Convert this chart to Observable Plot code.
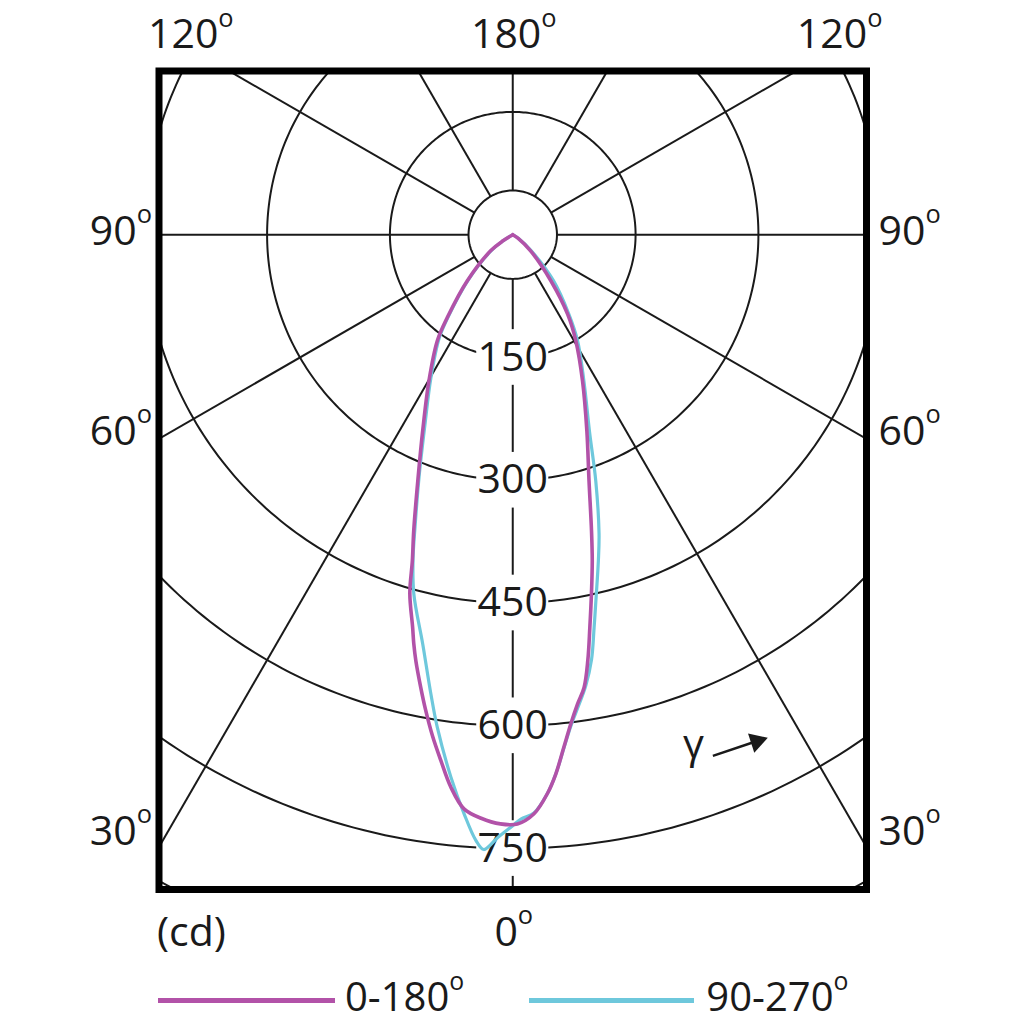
<!DOCTYPE html>
<html>
<head>
<meta charset="utf-8">
<script src="https://cdn.jsdelivr.net/npm/d3@7"></script>
<script src="https://cdn.jsdelivr.net/npm/@observablehq/plot@0.6"></script>
<style>
  html, body { margin: 0; padding: 0; background: #fff; }
  #chart svg { display: block; }
  #legend {
    box-sizing: border-box; height: 64px; padding-top: 8px;
    display: flex; align-items: center;
    font-family: "Open Sans", sans-serif; font-size: 40px; line-height: 1; color: #1a1a1a;
    padding-left: 158px;
  }
  #legend .sw { display: inline-block; height: 5px; position: relative; top: 4px; }
  #legend .deg { font-size: 0.62em; position: relative; top: -0.85em; }
</style>
</head>
<body>
<div id="chart"></div>
<div id="legend"></div>
<script>
// ---- data ----
const ringValues = [150, 300, 450, 600, 750, 900];
const ringLabels = [150, 300, 450, 600, 750];
const spokeAngles = [0, 30, 60, 90, 120, 150, 180, 210, 240, 270, 300, 330];
const hubRadius = 54;
const sideTickAngles = [90, 60, 30];
const topTickLabels = ["120°", "180°", "120°"];
const bottomTickLabel = "0°";
const unitLabel = "(cd)";
const seriesNames = ["0-180°", "90-270°"];
const seriesColors = ["#b252a8", "#6ec8dc"];

// C0-C180 plane (negative gamma = left half)
const gamma0 = [-65, -58, -54, -44.6, -38.3, -35.4, -29.8, -24.7, -21.2, -18.5, -17.1, -16.0, -14.3, -13.6, -12.8, -11.5, -10.4, -9.1, -7.8, -6.4, -4.85, -3.1, -1.2, 0.45, 2.1, 3.55, 4.56, 5.7, 6.76, 7.85, 8.95, 10.0, 11.1, 12.36, 13.7, 14.9, 17.2, 20.7, 25.5, 30.7, 34.6, 39.6, 48, 56, 62];
const cd0    = [0, 14, 33, 79, 129, 159, 206, 263, 320, 381, 417, 456, 495, 514, 534, 564, 590, 620, 648, 679, 704, 714, 720, 720, 708, 684, 661, 629, 602, 579, 560, 528, 489, 449, 410, 374, 315, 256, 198, 151, 118, 73, 29, 8, 0];

// C90-C270 plane
const gamma90 = [-65, -58, -54, -44.6, -38.3, -35.4, -29.8, -24.7, -21.2, -18.5, -17.1, -15.4, -12.4, -10.1, -8.7, -6.5, -4.8, -3.5, -2.7, -1.45, 0, 0.8, 2.1, 3.55, 4.56, 5.7, 6.76, 7.9, 9.2, 10.5, 11.7, 13.0, 14.7, 16.1, 18.6, 21.3, 26, 31.4, 35.2, 41.5, 49, 57, 63];
const cd90    = [0, 13, 31, 77, 126, 155, 201, 257, 316, 376, 414, 455, 512, 570, 609, 667, 710, 741, 752, 737, 722, 714, 707, 684, 661, 630, 604, 582, 558, 528, 490, 453, 412, 380, 318, 258, 198, 152, 119, 75, 30, 8, 0];

// annotation (polar position of the gamma sign and its arrow)
const gammaSign = {label: "γ", angle: 19.5, cd: 661};
const gammaArrow = {fromAngle: 21, fromCd: 682, toAngle: 25.2, toCd: 686, headAngle: 25.7, headCd: 687};

// ---- helpers ----
const rad = a => a * Math.PI / 180;
const px = (a, r) => r * Math.sin(rad(a));
const py = (a, r) => r * Math.cos(rad(a));
const xHalf = 432, yTop = -200, yBottom = 800;

const ringPts = ringValues.flatMap(r => d3.range(0, 361, 1).map(a => ({r, a})));
const hubPts = d3.range(0, 361, 2).map(a => ({r: hubRadius, a}));
const s0 = gamma0.map((g, i) => ({g, v: cd0[i]}));
const s90 = gamma90.map((g, i) => ({g, v: cd90[i]}));

const fs = 41;
const ink = "#1a1a1a";
const sideY = a => 0.98 * xHalf / Math.tan(rad(a));

const plot = Plot.plot({
  width: 1024,
  height: 960,
  marginLeft: 158.5,
  marginRight: 158,
  marginTop: 70.5,
  marginBottom: 71,
  x: {domain: [-xHalf, xHalf], axis: null},
  y: {domain: [yTop, yBottom], reverse: true, axis: null},
  style: {fontFamily: "'Open Sans', sans-serif", background: "white", overflow: "visible"},
  marks: [
    // rings
    Plot.line(ringPts, {x: d => px(d.a, d.r), y: d => py(d.a, d.r), z: "r", stroke: ink, strokeWidth: 2, clip: "frame"}),
    // hub
    Plot.line(hubPts, {x: d => px(d.a, d.r), y: d => py(d.a, d.r), stroke: ink, strokeWidth: 2}),
    // spokes
    Plot.link(spokeAngles, {
      x1: a => px(a, hubRadius), y1: a => py(a, hubRadius),
      x2: a => px(a, 2000), y2: a => py(a, 2000),
      stroke: ink, strokeWidth: 2, clip: "frame"
    }),
    // white boxes under ring labels
    Plot.rect(ringLabels, {x1: () => -44, x2: () => 44, y1: v => v - 34, y2: v => v + 34, fill: "white"}),
    Plot.text(ringLabels, {x: () => 0, y: v => v, text: v => String(v), fontSize: fs, fill: ink}),
    // curves
    Plot.line(s90, {x: d => px(d.g, d.v), y: d => py(d.g, d.v), stroke: seriesColors[1], strokeWidth: 3.2, curve: "catmull-rom"}),
    Plot.line(s0, {x: d => px(d.g, d.v), y: d => py(d.g, d.v), stroke: seriesColors[0], strokeWidth: 3.6, curve: "catmull-rom"}),
    // gamma annotation
    Plot.text([gammaSign], {x: d => px(d.angle, d.cd), y: d => py(d.angle, d.cd), text: "label", fontSize: fs, fill: ink}),
    Plot.link([gammaArrow], {
      x1: d => px(d.fromAngle, d.fromCd), y1: d => py(d.fromAngle, d.fromCd),
      x2: d => px(d.toAngle, d.toCd), y2: d => py(d.toAngle, d.toCd),
      stroke: ink, strokeWidth: 2.5
    }),
    Plot.dot([gammaArrow], {
      x: d => px(d.headAngle, d.headCd), y: d => py(d.headAngle, d.headCd),
      symbol: "triangle", r: 7.5, fill: ink, stroke: "none", rotate: 72
    }),
    // frame
    Plot.frame({stroke: "black", strokeWidth: 7}),
    // side angle labels
    Plot.text(sideTickAngles, {y: sideY, frameAnchor: "left", textAnchor: "end", lineAnchor: "middle", dx: -7, dy: -3, text: a => a + "°", fontSize: fs, fill: ink}),
    Plot.text(sideTickAngles, {y: sideY, frameAnchor: "right", textAnchor: "start", lineAnchor: "middle", dx: 12, dy: -3, text: a => a + "°", fontSize: fs, fill: ink}),
    // top labels
    Plot.text([topTickLabels[0]], {frameAnchor: "top-left", textAnchor: "start", lineAnchor: "middle", dx: -11, dy: -36, text: d => d, fontSize: fs, fill: ink}),
    Plot.text([topTickLabels[1]], {frameAnchor: "top", lineAnchor: "middle", dx: 1, dy: -36, text: d => d, fontSize: fs, fill: ink}),
    Plot.text([topTickLabels[2]], {frameAnchor: "top-right", textAnchor: "end", lineAnchor: "middle", dx: 16, dy: -36, text: d => d, fontSize: fs, fill: ink}),
    // bottom labels
    Plot.text([bottomTickLabel], {frameAnchor: "bottom", lineAnchor: "middle", dx: 1, dy: 43, text: d => d, fontSize: fs, fill: ink}),
    Plot.text([unitLabel], {frameAnchor: "bottom-left", textAnchor: "start", lineAnchor: "middle", dx: -2, dy: 43, text: d => d, fontSize: fs, fill: ink})
  ]
});

// raised "o" for degree marks
plot.querySelectorAll("text, tspan").forEach(el => {
  for (const node of [...el.childNodes]) {
    if (node.nodeType === 3 && node.nodeValue.includes("°")) {
      const parts = node.nodeValue.split("°");
      node.nodeValue = parts[0];
      const t = document.createElementNS("http://www.w3.org/2000/svg", "tspan");
      t.setAttribute("font-size", "0.62em");
      t.setAttribute("dy", "-0.85em");
      t.textContent = "o";
      el.insertBefore(t, node.nextSibling);
    }
  }
});
document.getElementById("chart").appendChild(plot);

// legend
const legend = document.getElementById("legend");
const swW = [177, 165];
const gaps = [["10px", "65px"], ["12px", "0px"]];
seriesNames.forEach((name, i) => {
  const sw = document.createElement("span");
  sw.className = "sw";
  sw.style.width = swW[i] + "px";
  sw.style.background = seriesColors[i];
  sw.style.marginRight = gaps[i][0];
  legend.appendChild(sw);
  const lab = document.createElement("span");
  lab.style.marginRight = gaps[i][1];
  const base = name.replace("°", "");
  lab.innerHTML = base + '<span class="deg">o</span>';
  legend.appendChild(lab);
});
</script>
</body>
</html>
